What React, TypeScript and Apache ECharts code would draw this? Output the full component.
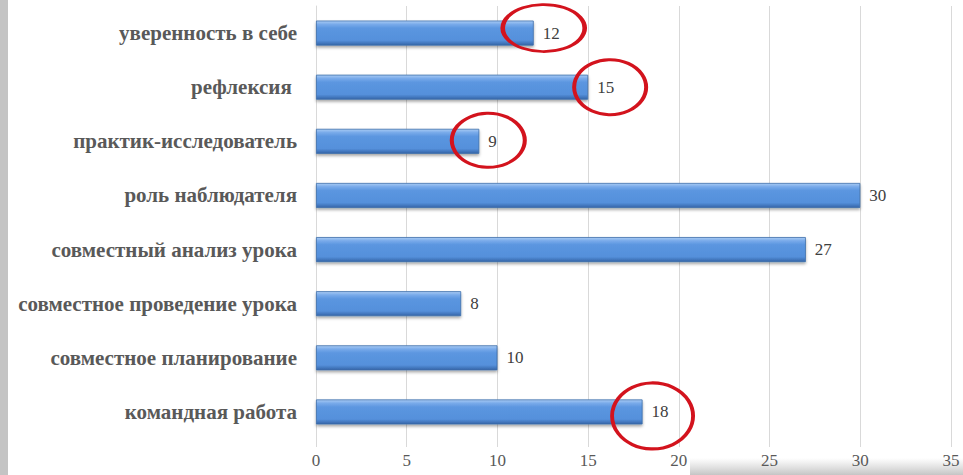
import React, { useEffect, useRef } from "react";
import * as echarts from "echarts";

const categories: string[] = [
  "командная работа",
  "совместное планирование",
  "совместное проведение урока",
  "совместный анализ урока",
  "роль наблюдателя",
  "практик-исследователь",
  "рефлексия ",
  "уверенность в себе",
];
const values: number[] = [18, 10, 8, 27, 30, 9, 15, 12];
const xTicks = { min: 0, max: 35, interval: 5 };

// circled (highlighted) categories
const highlighted: string[] = [
  "уверенность в себе",
  "рефлексия ",
  "практик-исследователь",
  "командная работа",
];
const highlightOffsets: number[][] = [
  [10, -5],
  [22, 0],
  [9, -1],
  [10, 4],
];
const highlightSizes: number[][] = [
  [82, 47],
  [72, 55],
  [73, 54],
  [81, 66],
];

const FONT = "Liberation Serif";

export default function App() {
  const ref = useRef<HTMLDivElement>(null);
  useEffect(() => {
    if (!ref.current) return;
    const chart = echarts.init(ref.current, undefined, { renderer: "svg" });
    const markData = highlighted.map((c, i) => ({
      coord: [values[categories.indexOf(c)], c],
      symbolOffset: highlightOffsets[i],
      symbolSize: highlightSizes[i],
    }));
    chart.setOption({
      animation: false,
      backgroundColor: "#ffffff",
      graphic: [
        {
          type: "rect",
          shape: { x: 0, y: 0, width: 8, height: 475 },
          style: { fill: "#c4c4c4" },
          silent: true,
        },
        {
          type: "rect",
          shape: { x: 690, y: 458, width: 273, height: 17 },
          style: {
            fill: new echarts.graphic.LinearGradient(0, 0, 0, 1, [
              { offset: 0, color: "rgba(200,200,200,0)" },
              { offset: 1, color: "rgba(190,190,190,0.9)" },
            ]),
          },
          silent: true,
          z: -1,
        },
      ],
      grid: { left: 316, right: 12, top: 6, bottom: 36, containLabel: false },
      xAxis: {
        type: "value",
        min: xTicks.min,
        max: xTicks.max,
        interval: xTicks.interval,
        axisLine: { show: false },
        axisTick: { show: true, length: 8, lineStyle: { color: "#d9d9d9" } },
        splitLine: { show: true, lineStyle: { color: "#d9d9d9", width: 1 } },
        axisLabel: {
          color: "#595959",
          fontFamily: FONT,
          fontSize: 17,
          margin: 13,
        },
      },
      yAxis: {
        type: "category",
        data: categories,
        axisLine: { show: true, lineStyle: { color: "#d9d9d9" } },
        axisTick: { show: false },
        axisLabel: {
          color: "#595959",
          fontFamily: FONT,
          fontWeight: "bold",
          fontSize: 21,
          margin: 19,
        },
      },
      series: [
        {
          type: "bar",
          data: values,
          barWidth: 25,
          itemStyle: {
            color: new echarts.graphic.LinearGradient(0, 0, 0, 1, [
              { offset: 0, color: "#a9cbf4" },
              { offset: 0.14, color: "#78aaea" },
              { offset: 0.3, color: "#5b96e0" },
              { offset: 0.8, color: "#5590db" },
              { offset: 1, color: "#3565a8" },
            ]),
            borderColor: "#3e6eab",
            borderWidth: 0.8,
            shadowColor: "rgba(0,0,0,0.35)",
            shadowBlur: 3,
            shadowOffsetY: 2,
          },
          label: {
            show: true,
            position: "right",
            distance: 9,
            color: "#404040",
            fontFamily: FONT,
            fontSize: 17,
          },
          markPoint: {
            symbol: "circle",
            silent: true,
            label: { show: false },
            itemStyle: {
              color: "rgba(0,0,0,0)",
              borderColor: "#d3131d",
              borderWidth: 3.5,
            },
            data: markData,
          },
        },
      ],
    });
    return () => chart.dispose();
  }, []);
  return (
    <div
      ref={ref}
      style={{ position: "fixed", left: 0, top: 0, width: 963, height: 475 }}
    />
  );
}
